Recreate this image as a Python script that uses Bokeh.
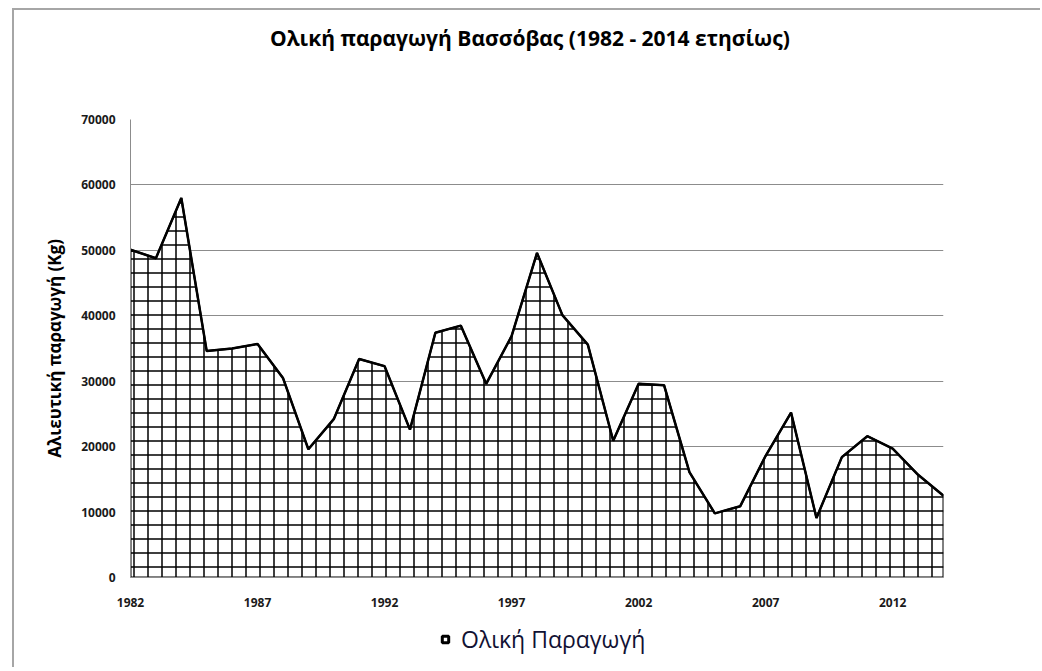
from bokeh.plotting import figure
from bokeh.layouts import column
from bokeh.models import Legend, LegendItem, FixedTicker, NumeralTickFormatter, Range1d, Label
from bokeh.embed import file_html
from bokeh.resources import INLINE

years = list(range(1982, 2015))
production = [50100, 48800, 58000, 34600, 35000, 35700, 30500, 19600, 24200, 33400,
              32300, 22600, 37400, 38500, 29600, 36900, 49600, 40100, 35600, 20900,
              29600, 29400, 16100, 9800, 10900, 18600, 25200, 9100, 18400, 21600,
              19700, 15700, 12500]
x_ticks = [1982, 1987, 1992, 1997, 2002, 2007, 2012]
y_ticks = [0, 10000, 20000, 30000, 40000, 50000, 60000, 70000]
title_text = "Ολική παραγωγή Βασσόβας (1982 - 2014 ετησίως)"
y_label = "Αλιευτική παραγωγή (Kg)"
series_name = "Ολική Παραγωγή"

FONT = "Open Sans"
FW, FH = 813, 458
BL, BR = 116, 97
W = BL + FW + BR
TOP_H, BOT_H = 101, 50


def blank_fig(h):
    f = figure(width=W, height=h, output_backend="svg", toolbar_location=None,
               x_range=Range1d(0, W), y_range=Range1d(0, h), min_border=0,
               x_axis_location=None, y_axis_location=None)
    f.outline_line_color = None
    f.xgrid.visible = False
    f.ygrid.visible = False
    f.background_fill_color = "white"
    f.border_fill_color = "white"
    return f


# Title strip
top = blank_fig(TOP_H)
top.add_layout(Label(x=504, y=74, text=title_text, text_align="center",
                     text_baseline="middle", text_font=FONT, text_font_size="21px",
                     text_font_style="bold", text_color="black"))

# Main chart
p = figure(frame_width=FW, frame_height=FH, output_backend="svg", toolbar_location=None,
           x_range=Range1d(years[0], years[-1]), y_range=Range1d(0, 70000),
           min_border_left=BL, min_border_right=BR, min_border_top=8, min_border_bottom=40)
p.outline_line_color = None
p.background_fill_color = "white"
p.border_fill_color = "white"

p.xgrid.grid_line_color = None
p.ygrid.grid_line_color = "#8c8c8c"
p.ygrid.grid_line_width = 1

p.yaxis.ticker = FixedTicker(ticks=y_ticks)
p.xaxis.ticker = FixedTicker(ticks=x_ticks)
p.yaxis.formatter = NumeralTickFormatter(format="0")
p.xaxis.formatter = NumeralTickFormatter(format="0")
for ax in (p.xaxis[0], p.yaxis[0]):
    ax.major_tick_line_color = None
    ax.minor_tick_line_color = None
    ax.axis_line_color = "#8c8c8c"
    ax.major_label_text_font = FONT
    ax.major_label_text_font_size = "12px"
    ax.major_label_text_font_style = "bold"
    ax.major_label_text_color = "#1a1a1a"
p.yaxis.major_label_standoff = 9
p.xaxis.major_label_standoff = 14

p.yaxis.axis_label = y_label
p.yaxis.axis_label_text_font = FONT
p.yaxis.axis_label_text_font_size = "17px"
p.yaxis.axis_label_text_font_style = "bold"
p.yaxis.axis_label_text_color = "black"
p.yaxis.axis_label_standoff = 12

xs = years + [years[-1], years[0]]
ys = production + [0, 0]
p.patch(xs, ys, fill_color="white", line_color="black", line_width=2,
        hatch_pattern="+", hatch_color="black", hatch_weight=1.5, hatch_scale=14)
p.line(years, production, line_color="black", line_width=2.5)

# Legend strip (the proxy's single point lies outside this strip's ranges)
bot = blank_fig(BOT_H)
proxy = bot.scatter(x=years[:1], y=production[:1], marker="square", size=14,
                    fill_color="white", line_color="black", line_width=3)
legend = Legend(items=[LegendItem(label=series_name, renderers=[proxy])],
                orientation="horizontal", location=(307, 12),
                label_text_font=FONT, label_text_font_size="23px",
                label_text_color="#111133", border_line_color=None,
                background_fill_alpha=0, glyph_width=16, glyph_height=16,
                label_standoff=8, margin=0, padding=4)
bot.add_layout(legend)

layout = column(top, p, bot, spacing=0)
layout.styles = {"border-top": "2px solid #a6a6a6", "border-left": "2px solid #a6a6a6",
                 "margin-left": "12px", "margin-top": "8px"}

open("out.html", "w").write(file_html(layout, INLINE))
